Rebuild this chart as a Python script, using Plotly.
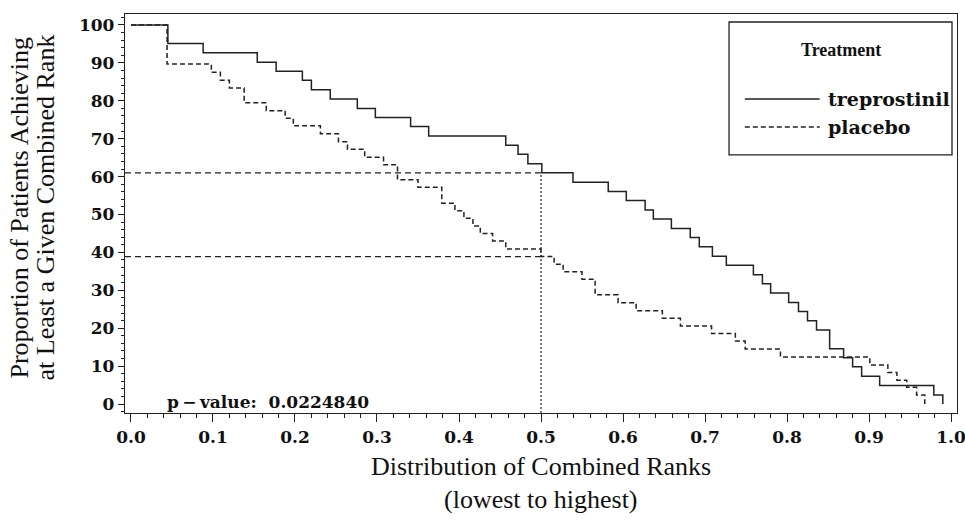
import plotly.graph_objects as go

# Treprostinil (solid) step curve: distribution of combined ranks vs proportion
trep_x = [0, 0.045, 0.088, 0.154, 0.177, 0.209, 0.220, 0.243, 0.276, 0.298, 0.341, 0.363,
          0.457, 0.472, 0.484, 0.501, 0.539, 0.582, 0.604, 0.627, 0.637, 0.659, 0.682, 0.693,
          0.709, 0.726, 0.759, 0.770, 0.780, 0.802, 0.814, 0.825, 0.836, 0.852, 0.869, 0.880,
          0.891, 0.913, 0.979, 0.990]
trep_y = [100, 95.1, 92.7, 90.2, 87.8, 85.4, 82.9, 80.5, 78.0, 75.6, 73.2, 70.7,
          68.3, 65.9, 63.4, 61.0, 58.5, 56.1, 53.7, 51.2, 48.8, 46.3, 43.9, 41.5,
          39.0, 36.6, 34.1, 31.7, 29.3, 26.8, 24.4, 22.0, 19.5, 14.6, 12.2, 9.8,
          7.3, 4.9, 2.4, 0]

# Placebo (dashed) step curve
plac_x = [0, 0.044, 0.098, 0.109, 0.120, 0.138, 0.165, 0.188, 0.198, 0.231, 0.253, 0.264,
          0.285, 0.308, 0.325, 0.350, 0.379, 0.395, 0.406, 0.417, 0.426, 0.441, 0.457, 0.500,
          0.516, 0.527, 0.550, 0.566, 0.594, 0.616, 0.648, 0.670, 0.708, 0.737, 0.749, 0.792,
          0.901, 0.923, 0.934, 0.946, 0.958, 0.968]
plac_y = [100, 89.7, 87.5, 85.4, 83.4, 79.5, 77.4, 75.4, 73.4, 71.3, 69.2, 67.2,
          65.1, 63.1, 59.2, 57.2, 53.0, 51.0, 49.0, 47.0, 45.0, 43.0, 40.9, 38.9,
          36.9, 34.9, 32.9, 28.8, 26.7, 24.6, 22.6, 20.6, 18.6, 16.6, 14.5, 12.4,
          10.3, 8.3, 6.3, 4.4, 2.4, 0]

# Reference (median) values
median_x = 0.5
trep_at_median = 61.0
plac_at_median = 38.9
p_value_text = "p\u2009\u2212\u2009value:  0.0224840"

x_range = [-0.0073, 1.0073]
y_range = [-2.37, 102.9]
x_ticks = [0.0, 0.1, 0.2, 0.3, 0.4, 0.5, 0.6, 0.7, 0.8, 0.9, 1.0]
x_ticklabels = ["0.0", "0.1", "0.2", "0.3", "0.4", "0.5", "0.6", "0.7", "0.8", "0.9", "1.0"]
y_ticks = [0, 10, 20, 30, 40, 50, 60, 70, 80, 90, 100]

fig = go.Figure()

# reference lines
fig.add_trace(go.Scatter(x=[x_range[0], median_x], y=[trep_at_median, trep_at_median],
                         mode="lines", line=dict(color="#222", width=1.3, dash="6px,4px"),
                         hoverinfo="skip", showlegend=False))
fig.add_trace(go.Scatter(x=[x_range[0], median_x], y=[plac_at_median, plac_at_median],
                         mode="lines", line=dict(color="#222", width=1.3, dash="6px,4px"),
                         hoverinfo="skip", showlegend=False))
fig.add_trace(go.Scatter(x=[median_x, median_x], y=[y_range[0], trep_at_median],
                         mode="lines", line=dict(color="#222", width=1.2, dash="2px,2px"),
                         hoverinfo="skip", showlegend=False))

fig.add_trace(go.Scatter(x=plac_x, y=plac_y, mode="lines", name="placebo",
                         line=dict(color="#222", width=1.5, dash="5px,3px", shape="hv"),
                         showlegend=False))
fig.add_trace(go.Scatter(x=trep_x, y=trep_y, mode="lines", name="treprostinil",
                         line=dict(color="#222", width=1.5, shape="hv"),
                         showlegend=False))

tick_font = dict(family="DejaVu Serif", size=17, color="#111", weight="bold")

fig.update_xaxes(range=x_range, tickvals=x_ticks, ticktext=x_ticklabels,
                 showgrid=False, zeroline=False, showline=True, linecolor="#222", linewidth=1.3,
                 mirror=True, ticks="outside", ticklen=8, tickcolor="#222", tickwidth=1.3,
                 tickfont=tick_font, automargin=False, ticklabeloverflow="allow",
                 minor=dict(dtick=0.02, tick0=0, ticks="outside", ticklen=4, tickcolor="#222",
                            tickwidth=1, showgrid=False))
fig.update_yaxes(range=y_range, tickvals=y_ticks,
                 showgrid=False, zeroline=False, showline=True, linecolor="#222", linewidth=1.3,
                 mirror=True, ticks="outside", ticklen=6, tickcolor="#222", tickwidth=1.3,
                 tickfont=tick_font, automargin=False, ticklabeloverflow="allow",
                 minor=dict(dtick=2, tick0=0, ticks="outside", ticklen=3, tickcolor="#222",
                            tickwidth=1, showgrid=False))

xtitle_font = dict(family="Liberation Serif", size=26, color="#111")
ytitle_font = dict(family="Liberation Serif", size=26, color="#111")
legend_title_font = dict(family="Liberation Serif", size=18, color="#111", weight="bold")
legend_font = dict(family="DejaVu Serif", size=19, color="#111", weight="bold")

annotations = [
    dict(text="Distribution of Combined Ranks", xref="paper", yref="paper", x=0.5, y=-0.135,
         xanchor="center", yanchor="middle", showarrow=False, font=xtitle_font),
    dict(text="(lowest to highest)", xref="paper", yref="paper", x=0.5, y=-0.218,
         xanchor="center", yanchor="middle", showarrow=False, font=xtitle_font),
    dict(text="Proportion of Patients Achieving", xref="paper", yref="paper", x=-0.1262, y=0.515,
         xanchor="center", yanchor="middle", textangle=-90, showarrow=False, font=ytitle_font),
    dict(text="at Least a Given Combined Rank", xref="paper", yref="paper", x=-0.0950, y=0.515,
         xanchor="center", yanchor="middle", textangle=-90, showarrow=False, font=ytitle_font),
    dict(text=p_value_text, xref="x", yref="y", x=0.041, y=0.5, xanchor="left", yanchor="middle",
         showarrow=False, font=dict(family="DejaVu Serif", size=17, color="#111", weight="bold")),
    # legend
    dict(text="Treatment", xref="paper", yref="paper", x=0.861, y=0.910, xanchor="center",
         yanchor="middle", showarrow=False, font=legend_title_font),
    dict(text="treprostinil", xref="paper", yref="paper", x=0.842, y=0.787, xanchor="left",
         yanchor="middle", showarrow=False, font=legend_font),
    dict(text="placebo", xref="paper", yref="paper", x=0.842, y=0.717, xanchor="left",
         yanchor="middle", showarrow=False, font=legend_font),
]

shapes = [
    dict(type="rect", xref="paper", yref="paper", x0=0.726, x1=0.994, y0=0.647, y1=0.980,
         line=dict(color="#222", width=1.3), fillcolor="white", layer="above"),
    dict(type="line", xref="paper", yref="paper", x0=0.745, x1=0.835, y0=0.787, y1=0.787,
         line=dict(color="#222", width=1.5)),
    dict(type="line", xref="paper", yref="paper", x0=0.745, x1=0.835, y0=0.717, y1=0.717,
         line=dict(color="#222", width=1.5, dash="5px,3px")),
]

fig.update_layout(
    width=965, height=527,
    margin=dict(l=125, r=8, t=14, b=114),
    paper_bgcolor="white", plot_bgcolor="white",
    annotations=annotations, shapes=shapes,
    showlegend=False,
)

# remove the browser's default page margin so the figure fills the window exactly
fig.write_html("out.html", config={"displayModeBar": False},
               post_script="document.body.style.margin='0';document.body.style.overflow='hidden';")
